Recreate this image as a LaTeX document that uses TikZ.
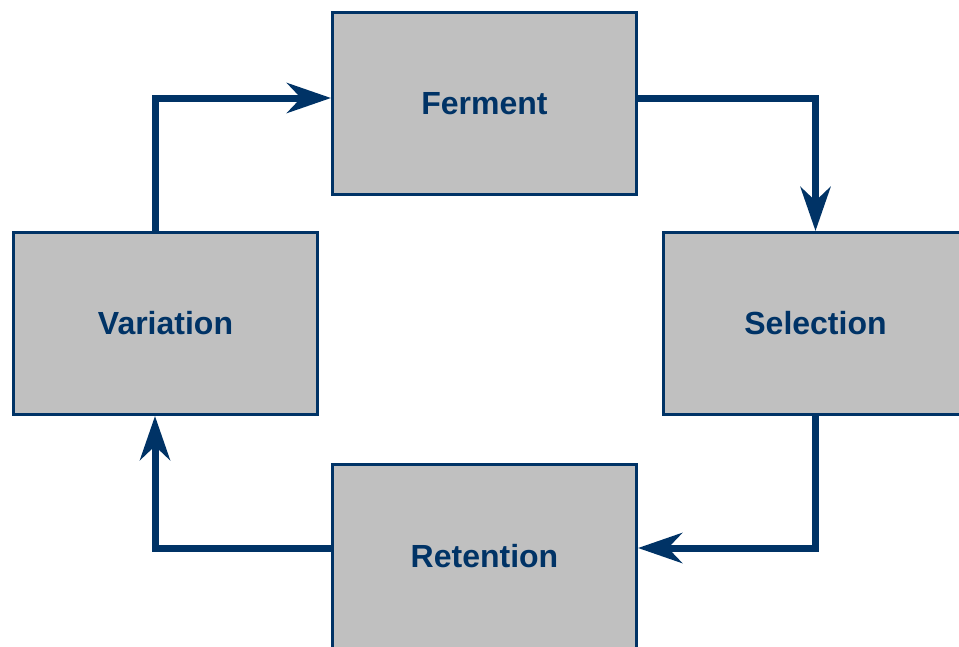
\documentclass[tikz,border=0pt]{standalone}
\usepackage{fontspec}
\setmainfont{Liberation Sans}
\usetikzlibrary{arrows.meta}
\definecolor{navy}{HTML}{003366}
\definecolor{boxgray}{HTML}{C0C0C0}
\tikzset{
  stagebox/.style={draw=navy, line width=3pt, fill=boxgray, minimum width=304pt, minimum height=182pt,
    inner sep=0pt, text=navy, font=\fontsize{32}{38}\selectfont\bfseries},
  flow/.style={draw=navy, line width=7pt, line join=miter,
    -{Stealth[length=44pt, width=30pt, inset=14pt]}}
}
\begin{document}
\begin{tikzpicture}[x=1pt,y=-1pt]
\useasboundingbox (0,0) rectangle (959,646);
\clip (0,0) rectangle (959,646);
\node[stagebox] (fer) at (484.5,103.5) {Ferment};
\node[stagebox] (var) at (165.5,323.5) {Variation};
\node[stagebox] (sel) at (815.5,323.5) {Selection};
\node[stagebox, minimum height=192pt] (ret) at (484.5,560.5) {\raisebox{4.5pt}[\height][\depth]{Retention}};
\draw[flow] ([xshift=-10.5pt]var.north) |- ([yshift=5.5pt]fer.west);
\draw[flow] ([yshift=5.5pt]fer.east) -| (sel.north);
\draw[flow] (sel.south) |- ([yshift=12.5pt]ret.east);
\draw[flow] ([yshift=12.5pt]ret.west) -| ([xshift=-10.5pt]var.south);
\end{tikzpicture}
\end{document}
